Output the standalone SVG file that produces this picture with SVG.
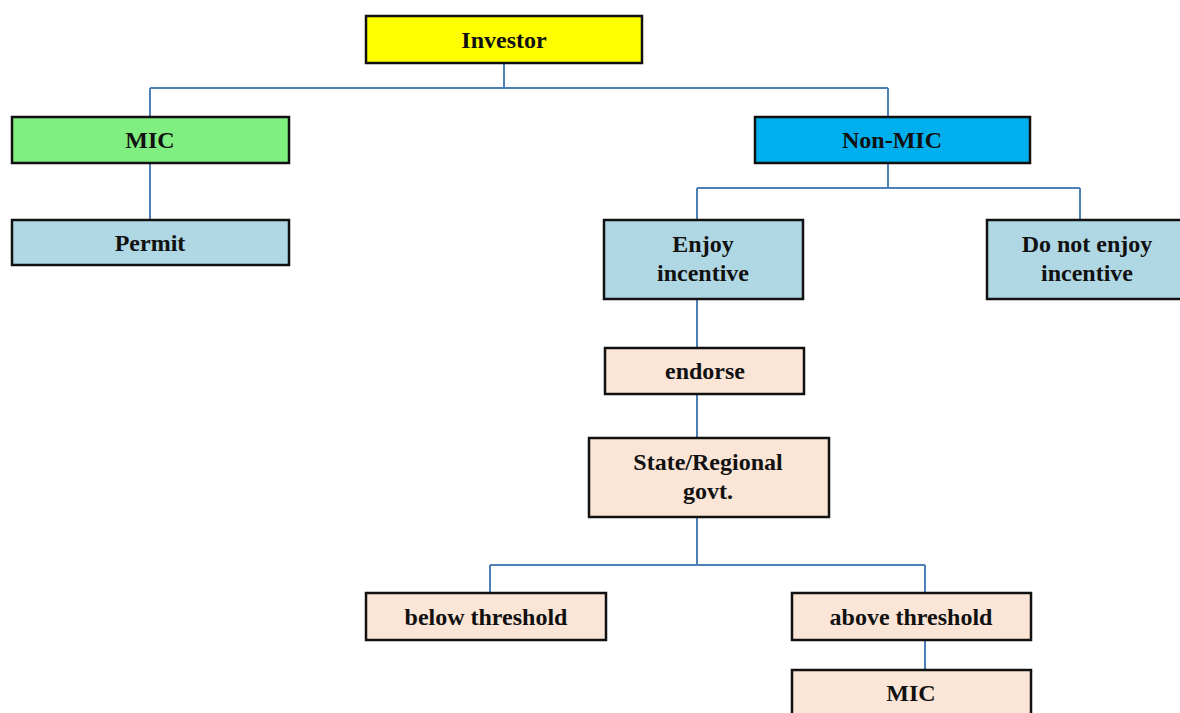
<svg xmlns="http://www.w3.org/2000/svg" width="1180" height="713" viewBox="0 0 1180 713">
<style>
.box{stroke:#111;stroke-width:2.5}
.t{font-family:"Liberation Serif","Times New Roman",serif;font-weight:bold;font-size:24px;fill:#111;text-anchor:middle}
.c{fill:none;stroke:#4f7fb8;stroke-width:2}
</style>
<rect width="1180" height="713" fill="#ffffff"/>
<g id="connectors">
<path class="c" d="M504 63V88M150 88H888M150 88V117M888 88V117"/>
<path class="c" d="M150 163V220"/>
<path class="c" d="M888 163V188M697 188H1080M697 188V220M1080 188V220"/>
<path class="c" d="M697 299V348M697 394V438"/>
<path class="c" d="M697 517V565M490 565H925M490 565V593M925 565V593"/>
<path class="c" d="M925 640V670"/>
</g>
<g id="investor"><rect class="box" x="366" y="16" width="276" height="47" fill="#ffff00"/><text class="t" x="504" y="48">Investor</text></g>
<g id="mic"><rect class="box" x="12" y="117" width="277" height="46" fill="#80ee80"/><text class="t" x="150" y="148">MIC</text></g>
<g id="permit"><rect class="box" x="12" y="220" width="277" height="45" fill="#b0d8e4"/><text class="t" x="150" y="251">Permit</text></g>
<g id="nonmic"><rect class="box" x="755" y="117" width="275" height="46" fill="#00b0ee"/><text class="t" x="892" y="148">Non-MIC</text></g>
<g id="enjoy"><rect class="box" x="604" y="220" width="199" height="79" fill="#b0d8e4"/><text class="t" x="703" y="252">Enjoy</text><text class="t" x="703" y="281">incentive</text></g>
<g id="notenjoy"><rect class="box" x="987" y="220" width="200" height="79" fill="#b0d8e4"/><text class="t" x="1087" y="252">Do not enjoy</text><text class="t" x="1087" y="281">incentive</text></g>
<g id="endorse"><rect class="box" x="605" y="348" width="199" height="46" fill="#fbe5d6"/><text class="t" x="705" y="379">endorse</text></g>
<g id="state"><rect class="box" x="589" y="438" width="240" height="79" fill="#fbe5d6"/><text class="t" x="708" y="470">State/Regional</text><text class="t" x="708" y="499">govt.</text></g>
<g id="below"><rect class="box" x="366" y="593" width="240" height="47" fill="#fbe5d6"/><text class="t" x="486" y="625">below threshold</text></g>
<g id="above"><rect class="box" x="792" y="593" width="239" height="47" fill="#fbe5d6"/><text class="t" x="911" y="625">above threshold</text></g>
<g id="mic2"><rect class="box" x="792" y="670" width="239" height="60" fill="#fbe5d6"/><text class="t" x="911" y="701">MIC</text></g>
</svg>
